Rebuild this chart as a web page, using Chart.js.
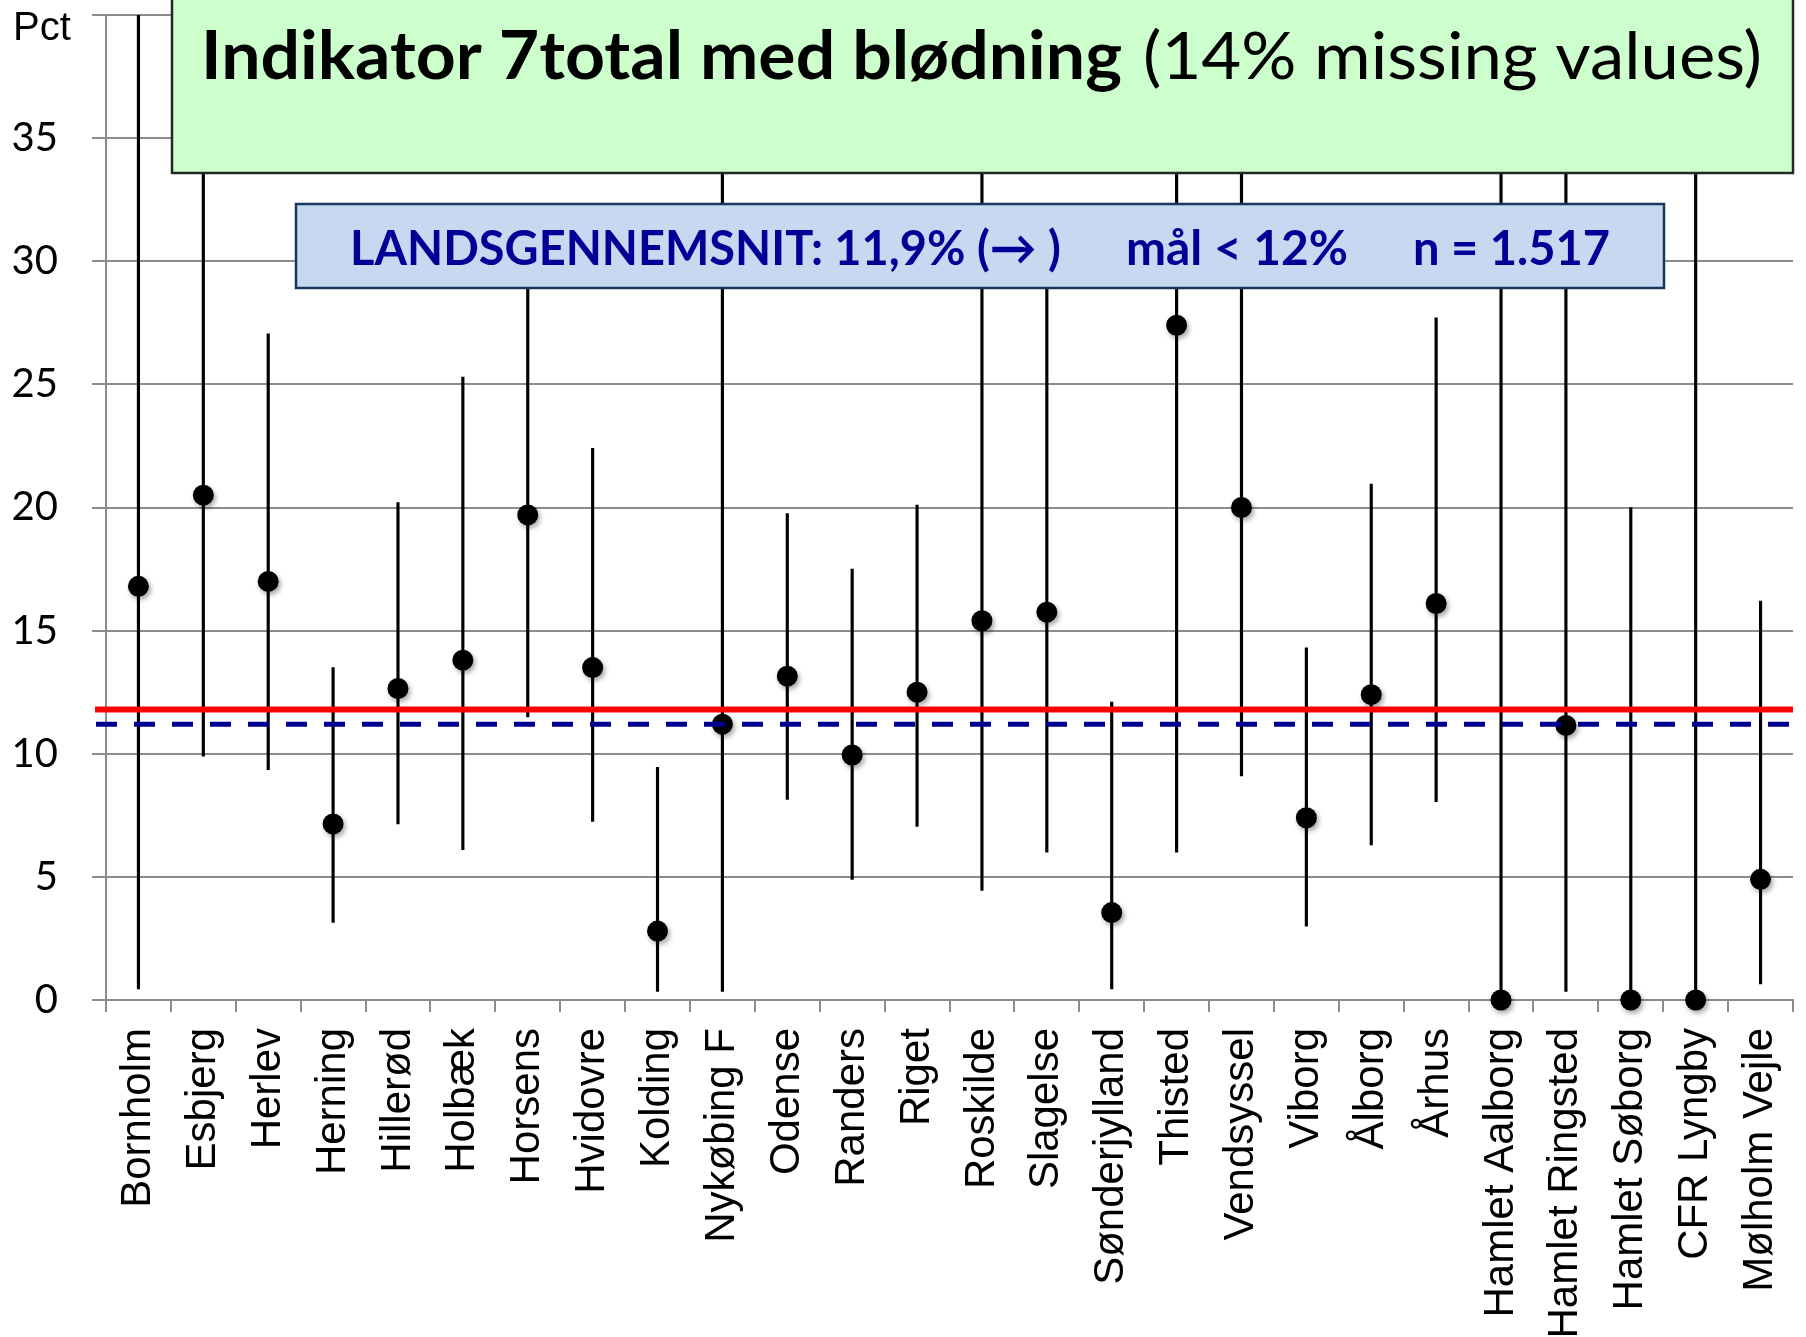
<!DOCTYPE html>
<html>
<head>
<meta charset="utf-8">
<script src="https://cdn.jsdelivr.net/npm/chart.js@4.4.1/dist/chart.umd.min.js"></script>
<style>
  body { margin: 0; background: #fff; }
</style>
</head>
<body>
<canvas id="plot" width="1806" height="1337"></canvas>
<script>
const categories = [
  "Bornholm", "Esbjerg", "Herlev", "Herning", "Hillerød", "Holbæk", "Horsens",
  "Hvidovre", "Kolding", "Nykøbing F", "Odense", "Randers", "Riget", "Roskilde",
  "Slagelse", "Sønderjylland", "Thisted", "Vendsyssel", "Viborg", "Ålborg", "Århus",
  "Hamlet Aalborg", "Hamlet Ringsted", "Hamlet Søborg", "CFR Lyngby", "Mølholm Vejle"
];

// point estimate, pct
const pct = [16.8, 20.5, 17.0, 7.15, 12.65, 13.8, 19.7, 13.5, 2.8, 11.2, 13.15, 9.95, 12.5,
  15.4, 15.75, 3.55, 27.4, 20.0, 7.4, 12.4, 16.1, 0, 11.15, 0, 0, 4.9];

// confidence interval ends
const lower = [0.45, 9.9, 9.35, 3.15, 7.15, 6.1, 11.5, 7.25, 0.35, 0.35, 8.15, 4.9, 7.05,
  4.45, 6.0, 0.45, 6.0, 9.1, 3.0, 6.3, 8.05, 0, 0.35, 0, 0, 0.65];
const upper = [40, 36, 27.05, 13.5, 20.2, 25.3, 30.5, 22.4, 9.45, 38, 19.75, 17.5, 20.1,
  37, 30.5, 12.1, 39, 36, 14.3, 20.95, 27.7, 37, 36, 20.0, 38, 16.2];

const nationalAvg = 11.8;   // red line
const goal = 11.2;          // blue dashed line
const yMax = 40;
const yStep = 5;
const yTopLabel = "Pct";

const titleBold = "Indikator 7total med blødning";
const titleRest = "(14% missing values)";
const infoParts = ["LANDSGENNEMSNIT: 11,9% (→ )", "mål < 12%", "n = 1.517"];

const CAL = "Lato, 'Noto Sans', sans-serif";
const ARIAL = "'Liberation Sans', Arial, sans-serif";
const GRID = "#8c8c8c";

const plot = document.querySelector("#plot");
const ctx = plot.getContext("2d");

// draw text squeezed/stretched to a given width
const fitText = (c, text, x, baseline, width, font) => {
  c.save();
  c.font = font;
  const w = c.measureText(text).width;
  c.translate(x, baseline);
  c.scale(width / w, 1);
  c.textAlign = "left";
  c.textBaseline = "alphabetic";
  c.fillText(text, 0, 0);
  c.restore();
};

const dotShadow = {
  id: "dotShadow",
  beforeDatasetDraw(chart, args) {
    if (args.index !== 0) return;
    const c = chart.ctx;
    c.save();
    c.shadowColor = "rgba(0,0,0,0.35)";
    c.shadowBlur = 5;
    c.shadowOffsetX = 2;
    c.shadowOffsetY = 3;
  },
  afterDatasetDraw(chart, args) {
    if (args.index !== 0) return;
    chart.ctx.restore();
  }
};

const refLines = {
  id: "refLines",
  afterDatasetsDraw(chart) {
    const c = chart.ctx;
    const area = chart.chartArea;
    const y = chart.scales.y;
    c.save();
    let py = y.getPixelForValue(nationalAvg);
    c.strokeStyle = "#ff0000";
    c.lineWidth = 6;
    c.beginPath();
    c.moveTo(area.left - 11, py);
    c.lineTo(area.right, py);
    c.stroke();

    py = y.getPixelForValue(goal);
    c.strokeStyle = "#000090";
    c.lineWidth = 5;
    c.setLineDash([21, 17]);
    c.beginPath();
    c.moveTo(area.left - 10, py);
    c.lineTo(area.right, py);
    c.stroke();
    c.restore();
  }
};

const boxes = {
  id: "boxes",
  afterDraw(chart) {
    const c = chart.ctx;
    c.save();
    // title box
    c.fillStyle = "#ccffcc";
    c.fillRect(172, -3, 1621, 176);
    c.strokeStyle = "#262626";
    c.lineWidth = 2.5;
    c.strokeRect(172, -3, 1621, 176);
    c.fillStyle = "#000";
    fitText(c, titleBold, 201, 79, 921, "bold 66px " + CAL);
    fitText(c, titleRest, 1143, 79, 619, "66px " + CAL);

    // info box
    c.fillStyle = "#c6d9f1";
    c.fillRect(296, 204, 1368, 84);
    c.strokeStyle = "#17375e";
    c.lineWidth = 2.5;
    c.strokeRect(296, 204, 1368, 84);
    c.fillStyle = "#000096";
    fitText(c, infoParts[0], 350, 265, 711, "bold 48px " + CAL);
    fitText(c, infoParts[1], 1126, 265, 222, "bold 48px " + CAL);
    fitText(c, infoParts[2], 1413, 265, 197, "bold 48px " + CAL);

    // axis caption
    c.fillStyle = "#000";
    c.font = "40px " + ARIAL;
    c.textAlign = "left";
    c.textBaseline = "alphabetic";
    c.fillText(yTopLabel, 13, 40);
    c.restore();
  }
};

new Chart(ctx, {
  type: "bar",
  data: {
    labels: categories,
    datasets: [
      {
        type: "line",
        data: pct,
        showLine: false,
        pointRadius: 10.5,
        pointHoverRadius: 10.5,
        pointBackgroundColor: "#000",
        pointBorderColor: "#000",
        pointBorderWidth: 0,
        clip: false,
        order: 0
      },
      {
        type: "bar",
        data: categories.map((c, i) => [lower[i], upper[i]]),
        backgroundColor: "#000",
        barThickness: 2.5,
        order: 1
      }
    ]
  },
  options: {
    responsive: false,
    animation: false,
    devicePixelRatio: 1,
    layout: { padding: { top: 15, right: 13, left: 0, bottom: 0 } },
    plugins: { legend: { display: false }, tooltip: { enabled: false } },
    scales: {
      x: {
        offset: true,
        grid: { display: true, drawOnChartArea: false, drawTicks: true, tickLength: 12,
                color: GRID, lineWidth: 2, offset: true },
        border: { color: GRID, width: 2 },
        ticks: { autoSkip: false, minRotation: 90, maxRotation: 90, padding: 16,
                 color: "#000", font: { family: ARIAL, size: 42 } },
        afterFit(s) { s.height = 337; s.paddingLeft = 0; s.paddingRight = 0; }
      },
      y: {
        min: 0,
        max: yMax,
        ticks: { stepSize: yStep, padding: 34, color: "#000",
                 font: { family: CAL, size: 40 },
                 callback: v => (v === yMax ? "" : v) },
        grid: { color: GRID, lineWidth: 2, tickLength: 14 },
        border: { color: GRID, width: 2 },
        afterFit(s) { s.width = 106; s.paddingTop = 0; s.paddingBottom = 0; }
      }
    }
  },
  plugins: [dotShadow, refLines, boxes]
});
</script>
</body>
</html>
